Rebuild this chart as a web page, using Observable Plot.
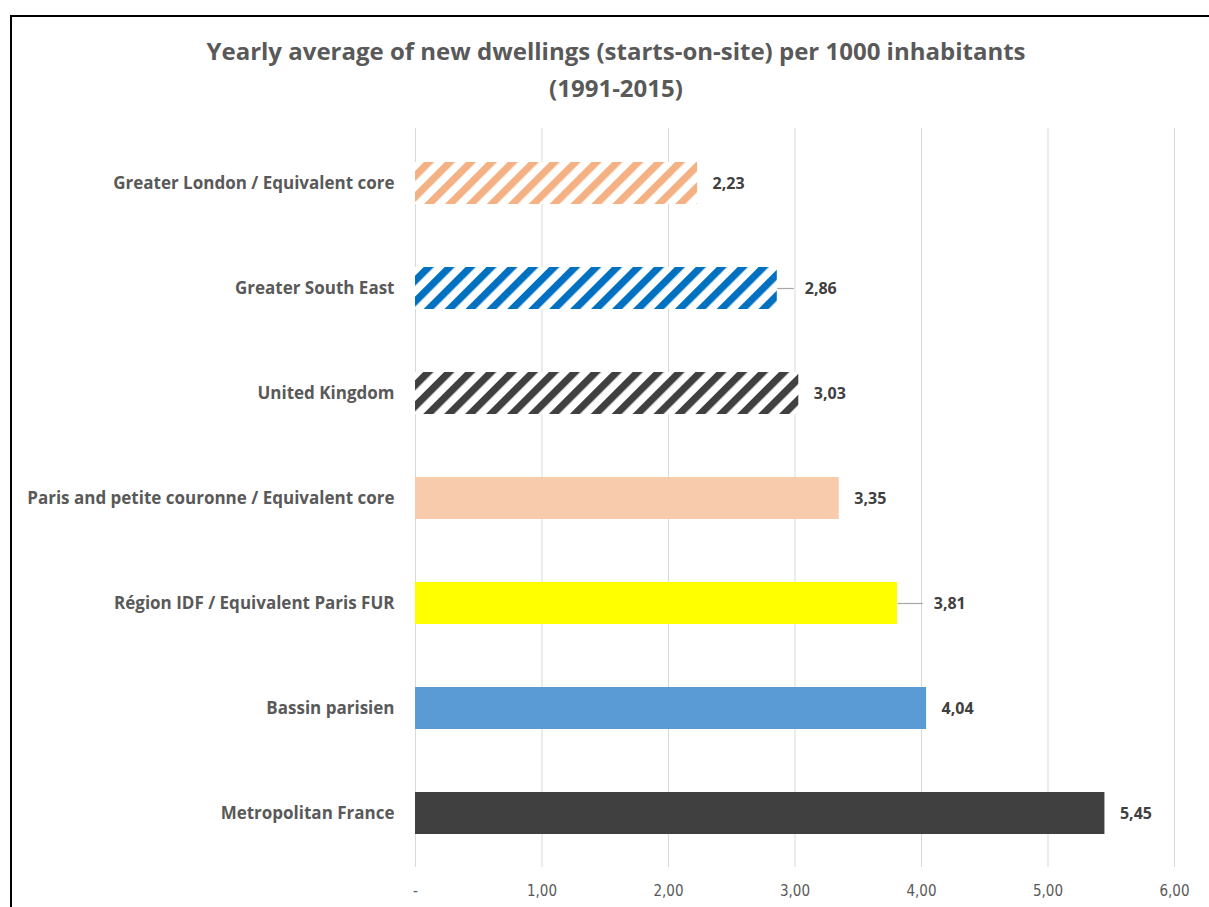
<!DOCTYPE html>
<html>
<head>
<meta charset="utf-8">
<script src="https://cdn.jsdelivr.net/npm/d3@7"></script>
<script src="https://cdn.jsdelivr.net/npm/@observablehq/plot@0.6"></script>
<style>
  html, body { margin: 0; padding: 0; background: #fff; }
  #wrap { position: relative; width: 1209px; height: 907px; overflow: hidden; }
  #frame { position: absolute; left: 10px; top: 15px; width: 1300px; height: 1000px; border: 2px solid #000; box-sizing: border-box; }
  #title { position: absolute; left: 0; top: 32px; width: 1232px; text-align: center;
    font-family: "Open Sans", Lato, sans-serif; font-weight: bold; font-size: 24px; line-height: 37px; color: #595959; }
  #chart { position: absolute; left: 0; top: 0; }
</style>
</head>
<body>
<div id="wrap">
  <div id="frame"></div>
  <div id="chart"></div>
  <div id="title">Yearly average of new dwellings (starts-on-site) per 1000 inhabitants<br>(1991-2015)</div>
</div>
<script>
const categories = [
  "Greater London / Equivalent core",
  "Greater South East",
  "United Kingdom",
  "Paris and petite couronne / Equivalent core",
  "Région IDF / Equivalent Paris FUR",
  "Bassin parisien",
  "Metropolitan France"
];
const values = [2.23, 2.86, 3.03, 3.35, 3.81, 4.04, 5.45];
const xTicks = [0, 1, 2, 3, 4, 5, 6];

// styles
const fills = {
  "Greater London / Equivalent core": "url(#hatchOrange)",
  "Greater South East": "url(#hatchBlue)",
  "United Kingdom": "url(#hatchDark)",
  "Paris and petite couronne / Equivalent core": "#F8CBAD",
  "Région IDF / Equivalent Paris FUR": "#FFFF00",
  "Bassin parisien": "#5B9BD5",
  "Metropolitan France": "#404040"
};
const leader = { "Greater South East": 0.13, "Région IDF / Equivalent Paris FUR": 0.2 };

const data = categories.map((c, i) => ({ cat: c, value: values[i], lead: leader[c] || 0 }));
const fmt = v => v.toFixed(2).replace(".", ",");

const plot = Plot.plot({
  width: 1209,
  height: 907,
  marginLeft: 415,
  marginRight: 35,
  marginTop: 128,
  marginBottom: 40,
  style: { fontFamily: "'Open Sans', sans-serif", fontSize: "16px", background: "transparent" },
  x: { domain: [0, 6], ticks: xTicks, tickFormat: v => v === 0 ? "-" : fmt(v), label: null },
  y: { domain: categories, paddingInner: 0.6, paddingOuter: 0.3, label: null },
  color: { type: "identity" },
  marks: [
    Plot.gridX(xTicks, { stroke: "#d9d9d9", strokeOpacity: 1, strokeWidth: 1 }),
    Plot.axisX({ ticks: xTicks, tickFormat: v => v === 0 ? "-" : fmt(v), tickSize: 0, tickPadding: 18,
      fill: "#595959", fontSize: 15, fontFamily: "'Liberation Sans Narrow', 'DejaVu Sans Condensed', sans-serif", label: null }),
    Plot.axisY({ tickSize: 0, tickPadding: 21, fill: "#595959", fontWeight: "bold", fontSize: 17, label: null }),
    Plot.barX(data, { y: "cat", x: "value", fill: d => fills[d.cat] }),
    Plot.link(data.filter(d => d.lead > 0), { y1: "cat", y2: "cat", x1: "value", x2: d => d.value + d.lead, stroke: "#a6a6a6", strokeWidth: 1.2 }),
    Plot.text(data.filter(d => d.lead === 0), { y: "cat", x: "value", text: d => fmt(d.value), textAnchor: "start", dx: 15,
      fill: "#404040", fontWeight: "bold", fontSize: 16 }),
    Plot.text(data.filter(d => d.lead > 0), { y: "cat", x: d => d.value + d.lead, text: d => fmt(d.value), textAnchor: "start", dx: 11,
      fill: "#404040", fontWeight: "bold", fontSize: 16 })
  ]
});

// hatch patterns
const defs = d3.select(plot).insert("defs", ":first-child");
function hatch(id, color) {
  const p = defs.append("pattern")
    .attr("id", id).attr("patternUnits", "userSpaceOnUse")
    .attr("width", 14.8).attr("height", 14.8)
    .attr("patternTransform", "rotate(45)");
  p.append("rect").attr("width", 14.8).attr("height", 14.8).attr("fill", "#fff");
  p.append("rect").attr("x", 0).attr("y", 0).attr("width", 7.2).attr("height", 14.8).attr("fill", color);
}
hatch("hatchOrange", "#F4B183");
hatch("hatchBlue", "#0070C0");
hatch("hatchDark", "#404040");

document.getElementById("chart").appendChild(plot);
</script>
</body>
</html>
